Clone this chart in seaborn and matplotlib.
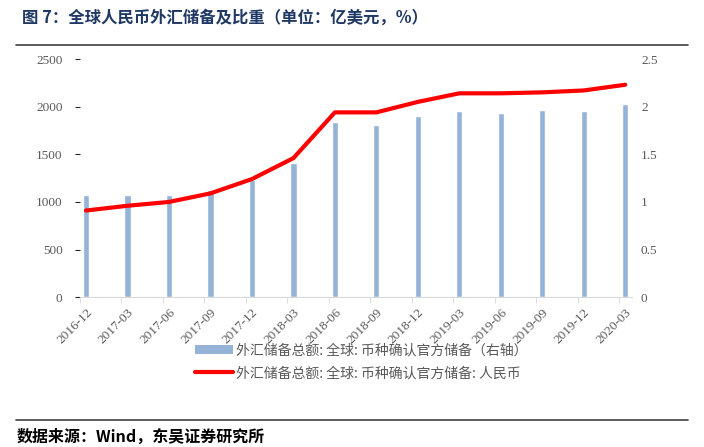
import matplotlib
matplotlib.use("Agg")
import matplotlib.pyplot as plt
from matplotlib.patches import Patch
from matplotlib.lines import Line2D
from matplotlib.ticker import FormatStrFormatter
import numpy as np
import seaborn as sns

dates = ["2016-12", "2017-03", "2017-06", "2017-09", "2017-12", "2018-03", "2018-06",
         "2018-09", "2018-12", "2019-03", "2019-06", "2019-09", "2019-12", "2020-03"]
reserves = [1073, 1078, 1077, 1126, 1231, 1406, 1843, 1808, 1899, 1955, 1937, 1965, 1955, 2031]
rmb_share = [0.91, 0.96, 1.00, 1.09, 1.24, 1.46, 1.94, 1.94, 2.05, 2.14, 2.14, 2.15, 2.17, 2.23]

bar_label = "外汇储备总额: 全球: 币种确认官方储备（右轴）"
line_label = "外汇储备总额: 全球: 币种确认官方储备: 人民币"
title = "图 7：全球人民币外汇储备及比重（单位：亿美元，%）"
source = "数据来源：Wind，东吴证券研究所"

sns.set_style("white")
plt.rcParams['font.family'] = ['Liberation Serif', 'Noto Sans CJK SC', 'DejaVu Sans']

grey = "#595959"
bar_color = "#95B3D7"

fig = plt.figure(figsize=(7.04, 4.47), dpi=100)
ax = fig.add_axes([0.1136, 0.335, 0.784, 0.533])

sns.barplot(x=dates, y=reserves, ax=ax, color=bar_color, width=0.15, saturation=1)
ax.set_ylim(0, 2500)
ax.set_yticks(range(0, 2501, 500))
ax.set_xlim(-0.145, 13.16)
# labels sit at the bars, tick marks a little to the left (as in the Excel original)
ax.set_xticks(np.arange(len(dates)))
ax.set_xticklabels(dates, rotation=45, ha="right", rotation_mode="anchor")
ax.set_xticks(np.arange(len(dates)) - 0.145, minor=True)
ax.set_xlabel("")
ax.set_ylabel("")
for s in ["left", "right", "top"]:
    ax.spines[s].set_visible(False)
ax.spines["bottom"].set_color("#D9D9D9")
ax.tick_params(axis="x", which="major", bottom=False, labelsize=9.5, labelcolor=grey, pad=3)
ax.tick_params(axis="x", which="minor", bottom=True, length=4, color="#D9D9D9")
ax.tick_params(axis="y", left=False, labelsize=9.5, labelcolor=grey, pad=9)

ax2 = ax.twinx()
sns.lineplot(x=np.arange(len(dates)), y=rmb_share, ax=ax2, color="#FF0000", linewidth=3)
ax2.set_ylim(0, 2.5)
ax2.set_yticks(np.arange(0, 2.51, 0.5))
ax2.yaxis.set_major_formatter(FormatStrFormatter('%g'))
for s in ["left", "right", "top", "bottom"]:
    ax2.spines[s].set_visible(False)
ax2.tick_params(axis="y", right=False, labelsize=9.5, labelcolor=grey, pad=3)
ax2.set_ylabel("")

handles = [Patch(facecolor=bar_color, edgecolor="none"),
           Line2D([0], [0], color="#FF0000", linewidth=3)]
fig.legend(handles, [bar_label, line_label], loc="upper left", bbox_to_anchor=(0.277, 0.232),
           ncol=1, frameon=False, handlelength=2.7, handletextpad=0.25, labelspacing=0.65,
           borderpad=0, borderaxespad=0,
           prop={"family": ["Noto Sans CJK SC"], "size": 10}, labelcolor=grey)

fig.text(0.031, 0.96, title, fontsize=11.8, fontweight="bold", color="#1F3864",
         family=["Noto Sans CJK SC"], va="center", ha="left")
fig.add_artist(Line2D([0.023, 0.977], [0.899, 0.899], color="#404040", linewidth=1.2))
fig.add_artist(Line2D([0.023, 0.977], [0.06, 0.06], color="#404040", linewidth=1.2))
fig.text(0.023, 0.022, source, fontsize=11.5, fontweight="bold", color="black",
         family=["Noto Sans CJK SC"], va="center", ha="left")

fig.savefig("out.png", dpi=100)
